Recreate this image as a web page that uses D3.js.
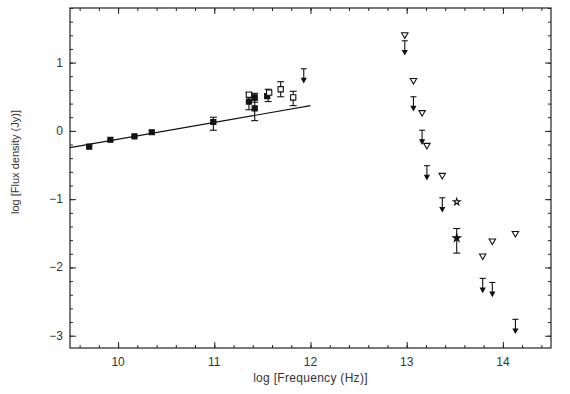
<!DOCTYPE html>
<html>
<head>
<meta charset="utf-8">
<script src="https://cdn.jsdelivr.net/npm/d3@7"></script>
<style>
    body { margin: 0; background: #fff; }
    text { font-family: "Liberation Sans", Arial, sans-serif; fill: #333; }
</style>
</head>
<body>
<div id="chart"></div>
<script>
/*global d3 */

////////////////////////////////////////
// data (log Hz, log Jy)
////////////////////////////////////////

var xDomain = [9.5, 14.5],
    yDomain = [-3.18, 1.8],
    xTicks = [10, 11, 12, 13, 14],
    yTicks = [-3, -2, -1, 0, 1],
    fitLine = [[9.5, -0.245], [12.0, 0.37]],
    filledSquares = [
        [9.70, -0.23], [9.92, -0.13], [10.17, -0.08], [10.35, -0.02],
        [10.99, 0.13], [11.36, 0.43], [11.42, 0.49], [11.42, 0.33],
        [11.55, 0.51]],
    openSquares = [[11.36, 0.53], [11.57, 0.56], [11.69, 0.61], [11.82, 0.49]],
    errorBars = [   // freq, low, high
        [10.99, 0.01, 0.20], [11.36, 0.31, 0.56], [11.42, 0.42, 0.55],
        [11.42, 0.15, 0.45], [11.56, 0.43, 0.61], [11.69, 0.50, 0.72],
        [11.82, 0.37, 0.58], [13.52, -1.79, -1.43]],
    upperLimits = [
        [11.93, 0.91], [12.98, 1.32], [13.07, 0.50], [13.16, 0.01],
        [13.21, -0.51], [13.37, -0.98], [13.79, -2.16], [13.89, -2.22],
        [14.13, -2.76]],
    triangles = [
        [12.98, 1.41], [13.07, 0.74], [13.16, 0.27], [13.21, -0.21],
        [13.37, -0.65], [13.79, -1.83], [13.89, -1.61], [14.13, -1.50]],
    openStars = [[13.52, -1.04]],
    filledStars = [[13.52, -1.57]];

(function () {
    "use strict";

    var W = 570, H = 394,
        m = {left: 70, right: 19, top: 8, bottom: 46},
        x = d3.scaleLinear().domain(xDomain).range([m.left, W - m.right]),
        y = d3.scaleLinear().domain(yDomain).range([H - m.bottom, m.top]),
        arrowLen = 0.2,
        svg, g,

    minorTicks = function (dom, step) {
        var out = [], v = Math.ceil(dom[0] / step) * step;
        while(v <= dom[1] + 1e-9) {
            out.push(Math.round(v * 10) / 10);
            v += step; }
        return out;
    },

    drawFrame = function () {
        var fmt = function (d) { return d < 0 ? "\u2212" + (-d) : String(d); },
            xMinor = minorTicks(xDomain, 0.2),
            yMinor = minorTicks(yDomain, 0.2);
        svg.append("rect")
            .attr("x", x(xDomain[0])).attr("y", y(yDomain[1]))
            .attr("width", x(xDomain[1]) - x(xDomain[0]))
            .attr("height", y(yDomain[0]) - y(yDomain[1]))
            .attr("fill", "none").attr("stroke", "#222")
            .attr("stroke-width", 1.2);
        // inward ticks on all four sides
        [[d3.axisBottom(x), y(yDomain[0])],
         [d3.axisTop(x), y(yDomain[1])]].forEach(function (a) {
            svg.append("g").attr("transform", "translate(0," + a[1] + ")")
                .call(a[0].tickValues(xMinor).tickSize(-3).tickFormat(""))
                .call(function (s) { s.select(".domain").remove(); });
            svg.append("g").attr("transform", "translate(0," + a[1] + ")")
                .call(a[0].tickValues(xTicks).tickSize(-6).tickFormat(""))
                .call(function (s) { s.select(".domain").remove(); }); });
        [[d3.axisLeft(y), x(xDomain[0])],
         [d3.axisRight(y), x(xDomain[1])]].forEach(function (a) {
            svg.append("g").attr("transform", "translate(" + a[1] + ",0)")
                .call(a[0].tickValues(yMinor).tickSize(-3).tickFormat(""))
                .call(function (s) { s.select(".domain").remove(); });
            svg.append("g").attr("transform", "translate(" + a[1] + ",0)")
                .call(a[0].tickValues(yTicks).tickSize(-6).tickFormat(""))
                .call(function (s) { s.select(".domain").remove(); }); });
        svg.selectAll(".tick line").attr("stroke", "#222");
        // labels
        svg.append("g").selectAll("text").data(xTicks).join("text")
            .attr("x", function (d) { return x(d); })
            .attr("y", y(yDomain[0]) + 18)
            .attr("text-anchor", "middle").attr("font-size", 12)
            .text(fmt);
        svg.append("g").selectAll("text").data(yTicks).join("text")
            .attr("x", x(xDomain[0]) - 7)
            .attr("y", function (d) { return y(d) + 4; })
            .attr("text-anchor", "end").attr("font-size", 12)
            .text(fmt);
        svg.append("text")
            .attr("x", x(12)).attr("y", H - 12)
            .attr("text-anchor", "middle").attr("font-size", 12)
            .attr("letter-spacing", 0.3)
            .text("log [Frequency (Hz)]");
        svg.append("text")
            .attr("transform", "translate(19,162) rotate(-90)")
            .attr("text-anchor", "middle").attr("font-size", 11)
            .text("log [Flux density (Jy)]");
    },

    drawData = function () {
        var line = d3.line().x(function (d) { return x(d[0]); })
                .y(function (d) { return y(d[1]); }),
            sym = function (type, size) { return d3.symbol().type(type).size(size); },
            at = function (d) { return "translate(" + x(d[0]) + "," + y(d[1]) + ")"; },
            cap = 3.5;
        g = svg.append("g").attr("stroke", "#111").attr("stroke-width", 1.1);
        g.append("path").datum(fitLine).attr("d", line).attr("fill", "none");
        // error bars
        errorBars.forEach(function (e) {
            var px = x(e[0]);
            g.append("line").attr("x1", px).attr("x2", px)
                .attr("y1", y(e[1])).attr("y2", y(e[2]));
            [e[1], e[2]].forEach(function (v) {
                g.append("line").attr("x1", px - cap).attr("x2", px + cap)
                    .attr("y1", y(v)).attr("y2", y(v)); }); });
        // upper limits
        upperLimits.forEach(function (u) {
            var px = x(u[0]), top = y(u[1]), tip = y(u[1] - arrowLen);
            g.append("line").attr("x1", px - 3).attr("x2", px + 3)
                .attr("y1", top).attr("y2", top);
            g.append("line").attr("x1", px).attr("x2", px)
                .attr("y1", top).attr("y2", tip - 3);
            g.append("path")
                .attr("d", "M" + (px - 2.2) + "," + (tip - 4) + "L" + (px + 2.2) +
                      "," + (tip - 4) + "L" + px + "," + tip + "Z")
                .attr("fill", "#111"); });
        g.selectAll(".fsq").data(filledSquares).join("path")
            .attr("transform", at)
            .attr("d", sym(d3.symbolSquare, 26)).attr("fill", "#111");
        g.selectAll(".osq").data(openSquares).join("path")
            .attr("transform", at)
            .attr("d", sym(d3.symbolSquare, 28)).attr("fill", "#fff");
        g.selectAll(".tri").data(triangles).join("path")
            .attr("transform", function (d) { return at(d) + " rotate(180)"; })
            .attr("d", sym(d3.symbolTriangle, 18)).attr("fill", "#fff");
        g.selectAll(".ost").data(openStars).join("path")
            .attr("transform", at)
            .attr("d", sym(d3.symbolStar, 14)).attr("fill", "#fff");
        g.selectAll(".fst").data(filledStars).join("path")
            .attr("transform", at)
            .attr("d", sym(d3.symbolStar, 18)).attr("fill", "#111");
    };

    svg = d3.select("#chart").append("svg").attr("width", W).attr("height", H);
    drawFrame();
    drawData();
}());
</script>
</body>
</html>
